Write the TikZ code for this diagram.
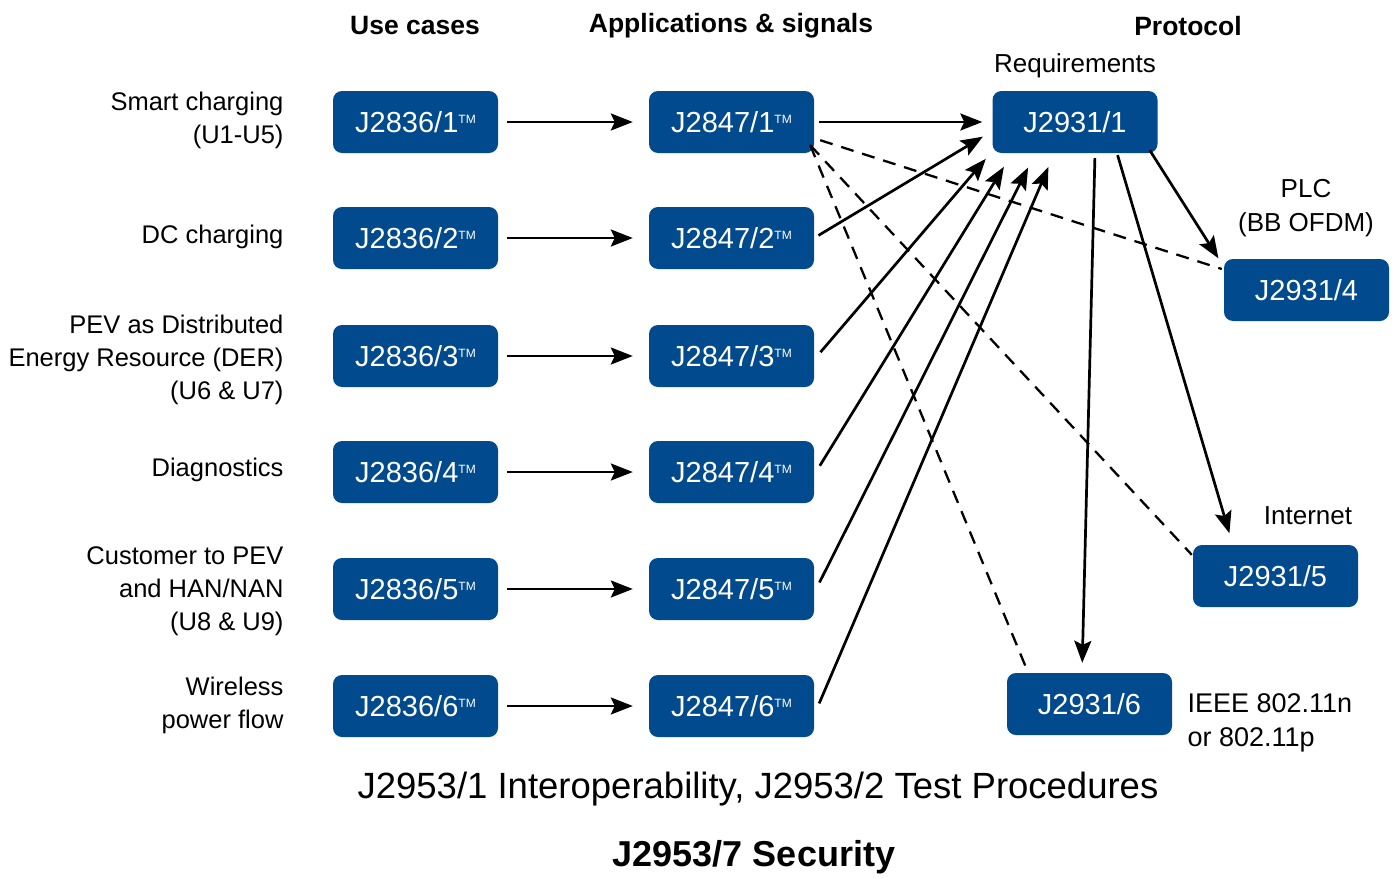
\documentclass[tikz,border=0pt]{standalone}
\usepackage{fontspec}
\setmainfont{Liberation Sans}
\usetikzlibrary{arrows.meta,calc}
\definecolor{saeblue}{RGB}{0,74,141}
\newcommand{\tm}{\raisebox{9pt}{\fontsize{12}{12}\selectfont TM}}
\tikzset{
  std/.style={fill=saeblue, text=white, rounded corners=9pt, minimum width=165pt,
    minimum height=62pt, inner sep=0pt, font=\fontsize{29}{31}\selectfont},
  lbl/.style={font=\fontsize{25.5}{33}\selectfont, align=right, anchor=east},
  note/.style={font=\fontsize{26}{34}\selectfont},
  hdr/.style={font=\bfseries\fontsize{26.5}{30}\selectfont},
  flow/.style={line width=2.7pt, -{Stealth[length=22pt,width=17pt,inset=4pt]}},
  dep/.style={line width=2.3pt, dash pattern=on 13pt off 9pt},
}
\begin{document}
\begin{tikzpicture}[x=1pt,y=-1pt]
  \useasboundingbox (0,0) rectangle (1392,878);
  % headers
  \node[hdr] (huse) at (415,26) {Use cases};
  \node[hdr] (happ) at (731,26) {Applications \& signals};
  \node[hdr] (hpro) at (1188,26) {Protocol};
  % use case labels
  \node[lbl] (l1) at (287,120) {Smart charging\\(U1-U5)};
  \node[lbl] (l2) at (287,237) {DC charging};
  \node[lbl] (l3) at (287,360) {PEV as Distributed\\Energy Resource (DER)\\(U6 \& U7)};
  \node[lbl] (l4) at (287,470) {Diagnostics};
  \node[lbl] (l5) at (287,591) {Customer to PEV\\and HAN/NAN\\(U8 \& U9)};
  \node[lbl] (l6) at (287,705) {Wireless\\power flow};
  % J2836 use cases
  \node[std] (u1) at (415.5,122) {J2836/1\tm};
  \node[std] (u2) at (415.5,238) {J2836/2\tm};
  \node[std] (u3) at (415.5,356) {J2836/3\tm};
  \node[std] (u4) at (415.5,472) {J2836/4\tm};
  \node[std] (u5) at (415.5,589) {J2836/5\tm};
  \node[std] (u6) at (415.5,706) {J2836/6\tm};
  % J2847 applications
  \node[std] (a1) at (731.5,122) {J2847/1\tm};
  \node[std] (a2) at (731.5,238) {J2847/2\tm};
  \node[std] (a3) at (731.5,356) {J2847/3\tm};
  \node[std] (a4) at (731.5,472) {J2847/4\tm};
  \node[std] (a5) at (731.5,589) {J2847/5\tm};
  \node[std] (a6) at (731.5,706) {J2847/6\tm};
  % J2931 protocol
  \node[std] (req) at (1075,122) {J2931/1};
  \node[std] (plc) at (1306.5,290) {J2931/4};
  \node[std] (inet) at (1275.5,576) {J2931/5};
  \node[std] (wifi) at (1089.5,704) {J2931/6};
  \node[note] (treq) at (1075,66) {Requirements};
  \node[note, align=center] (tplc) at (1306,208) {PLC\\(BB OFDM)};
  \node[note] (tinet) at (1308,516) {Internet};
  \node[note, align=left, anchor=west, font=\fontsize{27}{34}\selectfont]
    (twifi) at (1184,723) {IEEE 802.11n\\or 802.11p};
  % footer
  \node[font=\fontsize{36.5}{40}\selectfont] (ftest) at (758,789)
    {J2953/1 Interoperability, J2953/2 Test Procedures};
  \node[font=\bfseries\fontsize{36}{40}\selectfont] (fsec) at (754,857) {J2953/7 Security};
  % use cases to applications
  \begin{scope}[flow, shorten <=9pt, shorten >=16pt]
    \draw (u1) -- (a1);
    \draw (u2) -- (a2);
    \draw (u3) -- (a3);
    \draw (u4) -- (a4);
    \draw (u5) -- (a5);
    \draw (u6) -- (a6);
  \end{scope}
  % applications to requirements
  \begin{scope}[flow, shorten <=5pt]
    \draw[shorten >=10pt] (a1) -- (req);
    \draw[shorten >=11pt] (a2.east) -- ($(req.west)+(0,9)$);
    \draw[shorten >=10pt] ($(a3.east)+(3,0)$) -- ($(req.south west)+(0,-2)$);
    \draw[shorten >=16pt] ($(a4.east)+(3,-2)$) -- ($(req.south west)+(20,0)$);
    \draw[shorten >=16pt] ($(a5.east)+(3,-2)$) -- ($(req.south west)+(43,0)$);
    \draw[shorten >=15pt] ($(a6.east)+(3,2)$) -- ($(req.south west)+(62,0)$);
  \end{scope}
  % requirements to physical layers
  \begin{scope}[flow]
    \draw[shorten <=5pt, shorten >=10pt] ($(req.south)+(20,0)$) -- ($(wifi.north)+(-7.5,0)$);
    \draw[shorten <=2pt, shorten >=12pt] ($(req.south)+(42,0)$) -- ($(inet.north west)+(40,0)$);
    \draw[shorten <=0pt, shorten >=10pt] ($(req.south east)+(-8,-3)$) -- ($(plc.north west)+(0,8)$);
  \end{scope}
  % dashed dependencies
  \begin{scope}[dep]
    \draw ($(a1.south east)+(6,-13)$) -- ($(plc.west)+(-2,-21)$);
    \draw ($(a1.south east)+(-4,-8)$) -- ($(inet.north west)+(-1,10)$);
    \draw ($(a1.south east)+(-4,-8)$) -- ($(wifi.north west)+(21,-1)$);
  \end{scope}
\end{tikzpicture}
\end{document}
